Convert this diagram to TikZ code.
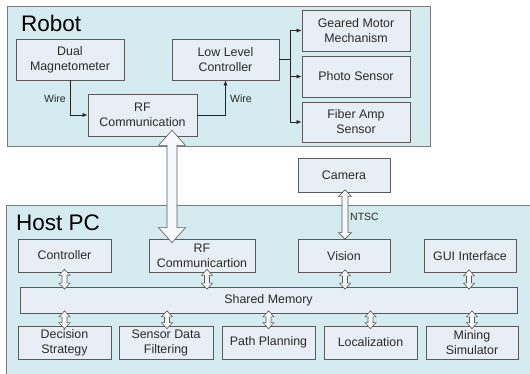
\documentclass[tikz,border=0pt]{standalone}
\usepackage{fontspec}
\setmainfont{Liberation Sans}
\usetikzlibrary{calc,arrows.meta}

\definecolor{panelfill}{HTML}{D4EBEF}
\definecolor{boxfill}{HTML}{E8EEF6}
\definecolor{edgegray}{HTML}{5A5A5A}
\definecolor{textgray}{HTML}{2A2A2A}

\tikzset{
  panel/.style={draw=edgegray!80, fill=panelfill, line width=0.7pt},
  block/.style={draw=edgegray, fill=boxfill, line width=0.7pt, inner sep=0pt,
    align=center, text=textgray, font=\fontsize{12.4}{15}\selectfont},
  title/.style={text=black, font=\fontsize{22.5}{26}\selectfont, anchor=west, inner sep=0pt},
  tag/.style={text=textgray, font=\fontsize{10.5}{12}\selectfont, inner sep=0pt},
  wire/.style={draw=black!85, line width=0.6pt, -{Latex[length=5pt,width=4pt]}},
  hollow/.style={draw=edgegray, fill=white!60!boxfill, line width=0.6pt, line join=miter}
}

% hollow double-headed arrow between two points on one vertical line
% #1 top tip, #2 bottom tip, #3 shaft half width, #4 head half width, #5 head length
\newcommand{\twoway}[5]{%
  \path[hollow] (#1)
    -- ($(#1)+(#4,#5)$) -- ($(#1)+(#3,#5)$)
    -- ($(#2)+(#3,-#5)$) -- ($(#2)+(#4,-#5)$)
    -- (#2)
    -- ($(#2)+(-#4,-#5)$) -- ($(#2)+(-#3,-#5)$)
    -- ($(#1)+(-#3,#5)$) -- ($(#1)+(-#4,#5)$) -- cycle;}

\begin{document}
\begin{tikzpicture}[x=1pt,y=-1pt]
\useasboundingbox (0,0) rectangle (530,374);
\clip (0,0) rectangle (530,374);
\fill[white] (0,0) rectangle (530,374);

% ---------- Robot ----------
\draw[panel] (7,6) rectangle (430,146);
\node[title] (robot) at (21,23) {Robot};

\node[block, minimum width=108pt, minimum height=41pt] (dm) at (70,59.5) {Dual\\Magnetometer};
\node[block, minimum width=107pt, minimum height=41pt] (llc) at (225.5,59.5) {Low Level\\Controller};
\node[block, minimum width=109pt, minimum height=42pt] (rfr) at (142.5,115) {RF\\Communication};
\node[block, minimum width=108pt, minimum height=41pt] (gm) at (356,30.5) {Geared Motor\\Mechanism};
\node[block, minimum width=108pt, minimum height=41pt] (ps) at (356,76.5) {Photo Sensor};
\node[block, minimum width=108pt, minimum height=40pt] (fa) at (356,122) {Fiber Amp\\Sensor};

\draw[wire] (dm.south) |- (rfr.west);
\draw[wire] (rfr.east) -| (llc.south);
\node[tag, anchor=east] (wl) at (66,99) {Wire};
\node[tag, anchor=west] (wr) at (230,99) {Wire};

\coordinate (fork) at ($(llc.east)+(11,0)$);
\draw[draw=black!85, line width=0.6pt] (llc.east) -- (fork);
\draw[wire] (fork) |- (gm.west);
\draw[wire] (fork) |- (ps.west);
\draw[wire] (fork) |- (fa.west);

% ---------- Camera ----------
\node[block, minimum width=92pt, minimum height=34pt] (cam) at (344,175.5) {Camera};

% ---------- Host PC ----------
\draw[panel] (6,205) rectangle (545,390);
\node[title] (host) at (16,223) {Host PC};

\node[block, minimum width=93pt, minimum height=33pt] (ctl) at (64.5,255.5) {Controller};
\node[block, minimum width=106pt, minimum height=33pt] (rfh) at (202,255.5) {RF\\Communicartion};
\node[block, minimum width=92pt, minimum height=33pt] (vis) at (344,256) {Vision};
\node[block, minimum width=92pt, minimum height=33pt] (gui) at (470,256) {GUI Interface};

\node[block, minimum width=497pt, minimum height=26pt] (mem) at (268.5,300) {Shared Memory};

\node[block, minimum width=93pt, minimum height=33pt] (dec) at (64.5,342.5) {Decision\\Strategy};
\node[block, minimum width=94pt, minimum height=33pt] (sdf) at (166,342.5) {Sensor Data\\Filtering};
\node[block, minimum width=93pt, minimum height=33pt] (pp) at (268.5,342.5) {Path Planning};
\node[block, minimum width=93pt, minimum height=33pt] (loc) at (370.5,342.5) {Localization};
\node[block, minimum width=92pt, minimum height=33pt] (ms) at (472,342.5) {Mining\\Simulator};

% links to the shared memory (tips reach a little into both boxes)
\foreach \b/\dx in {ctl/0, rfh/5, vis/1, gui/-1}{
  \coordinate (t) at ($(\b.south)+(\dx,-3)$);
  \coordinate (u) at ($(t |- mem.north)+(0,2.5)$);
  \twoway{t}{u}{2.5}{5.5}{6}
}
\foreach \b/\dx in {dec/0, sdf/1, pp/0, loc/0, ms/0}{
  \coordinate (t) at ($(\b.north)+(\dx,3)$);
  \coordinate (u) at ($(t |- mem.south)+(0,-2.5)$);
  \twoway{u}{t}{2.5}{5.5}{6}
}

% camera link
\coordinate (ct) at ($(cam.south)+(1,-3)$);
\coordinate (cb) at (ct |- vis.north);
\twoway{ct}{cb}{3}{6.5}{6.5}
\node[tag, anchor=west] (ntsc) at (350,217) {NTSC};

% radio link between robot and host
\coordinate (rt) at ($(rfr.south)+(29.5,-6)$);
\coordinate (rb) at ($(rt |- rfh.north)+(0,4)$);
\twoway{rt}{rb}{5}{13.5}{15}

\end{tikzpicture}
\end{document}
